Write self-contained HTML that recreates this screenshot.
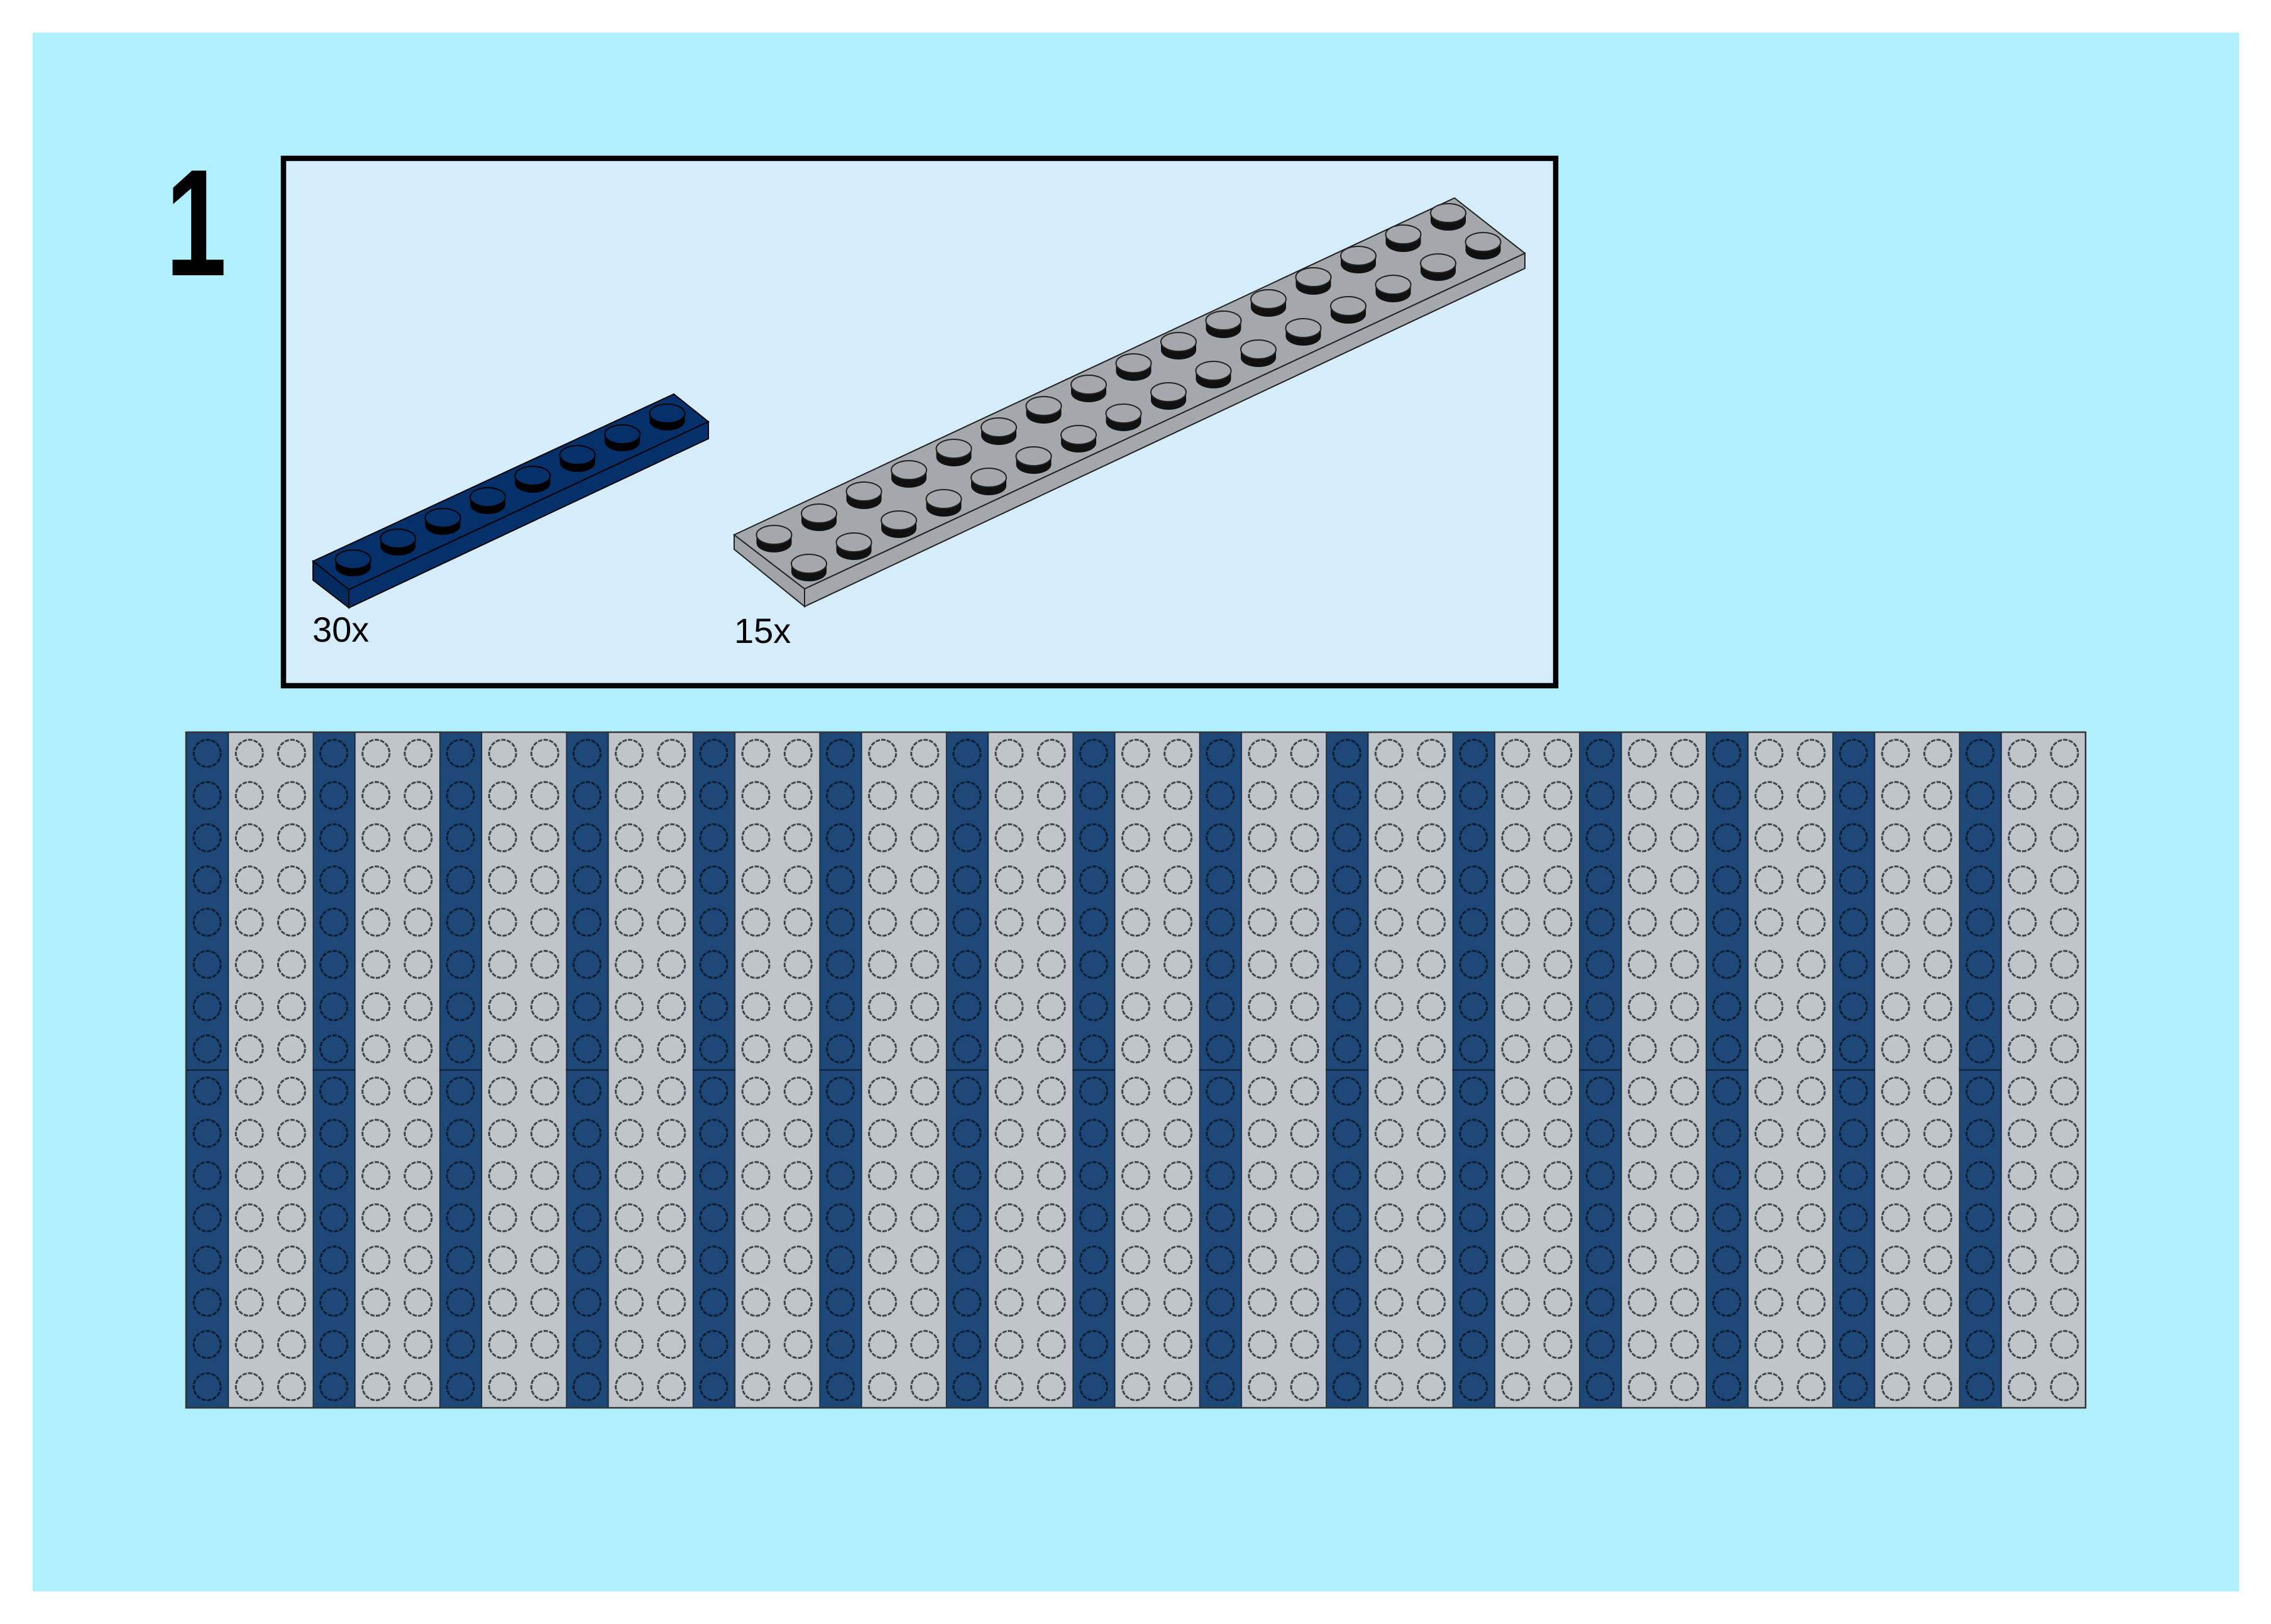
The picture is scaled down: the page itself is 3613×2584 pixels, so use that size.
<!DOCTYPE html>
<html><head><meta charset="utf-8"><style>
html,body{margin:0;padding:0;background:#fff;}
svg{display:block;}
</style></head><body>
<svg width="3613" height="2584" viewBox="0 0 3613 2584" xmlns="http://www.w3.org/2000/svg">
<defs>
<g id="bs">
  <ellipse cx="0" cy="12" rx="28" ry="15" fill="#000"/>
  <rect x="-28" y="0" width="56" height="12" fill="#000"/>
  <ellipse cx="0" cy="0" rx="28" ry="15" fill="#05306a" stroke="#000" stroke-width="2"/>
</g>
<g id="gs">
  <ellipse cx="0" cy="13" rx="28" ry="15" fill="#111"/>
  <rect x="-28" y="0" width="56" height="13" fill="#111"/>
  <ellipse cx="0" cy="0" rx="28" ry="15" fill="#a4a8ac" stroke="#222" stroke-width="2"/>
</g>
<pattern id="grid" x="296" y="1165" width="201.47" height="67.19" patternUnits="userSpaceOnUse">
  <rect x="0" y="0" width="67.2" height="67.19" fill="#1d4877"/>
  <rect x="67.2" y="0" width="134.27" height="67.19" fill="#c0c5cb"/>
  <line x1="67.2" y1="0" x2="67.2" y2="67.19" stroke="#1a2a3a" stroke-width="2"/>
  <line x1="0.5" y1="0" x2="0.5" y2="67.19" stroke="#1a2a3a" stroke-width="2"/>
  <circle cx="33.6" cy="33.6" r="21.5" fill="none" stroke="#0b1c30" stroke-width="3" stroke-dasharray="7 2"/>
  <circle cx="100.7" cy="33.6" r="21.5" fill="none" stroke="#3e4349" stroke-width="3" stroke-dasharray="7 2"/>
  <circle cx="167.9" cy="33.6" r="21.5" fill="none" stroke="#3e4349" stroke-width="3" stroke-dasharray="7 2"/>
</pattern>
</defs>

<rect x="52" y="52" width="3510" height="2480" fill="#b0effd"/>

<text transform="translate(270,438) scale(0.72,1)" x="-9" y="0" font-family="Liberation Sans, sans-serif" font-weight="bold" font-size="242" fill="#000">1</text>

<rect x="451" y="252" width="2024" height="839" fill="#d5edfc" stroke="#000" stroke-width="8.5"/>

<!-- blue plate -->
<polygon points="498,893 1072,627 1127,671 555,938" fill="#05306a" stroke="#000" stroke-width="2"/>
<polygon points="498,893 555,938 555,967 498,923" fill="#042b60" stroke="#000" stroke-width="2"/>
<polygon points="555,938 1127,671 1127,698 555,967" fill="#05306a" stroke="#000" stroke-width="2"/>
<use href="#bs" x="1061.5" y="658"/>
<use href="#bs" x="990.1" y="691"/>
<use href="#bs" x="918.7" y="724"/>
<use href="#bs" x="847.3" y="757"/>
<use href="#bs" x="775.9" y="791"/>
<use href="#bs" x="704.5" y="824"/>
<use href="#bs" x="633.1" y="857"/>
<use href="#bs" x="561.7" y="890"/>
<text x="497" y="1021" font-family="Liberation Sans, sans-serif" font-size="56" fill="#000">30x</text>

<!-- gray plate -->
<polygon points="1168,851 2314,315 2426,403 1280,937" fill="#a4a8ac" stroke="#222" stroke-width="2"/>
<polygon points="1168,851 1280,937 1280,965 1168,874" fill="#a0a4a8" stroke="#222" stroke-width="2"/>
<polygon points="1280,937 2426,403 2426,427 1280,965" fill="#a4a8ac" stroke="#222" stroke-width="2"/>
<g>
<use href="#gs" x="2304" y="339"/>
<use href="#gs" x="2359.5" y="385"/>
<use href="#gs" x="2232.5" y="373"/>
<use href="#gs" x="2288" y="419"/>
<use href="#gs" x="2161" y="407"/>
<use href="#gs" x="2216.5" y="453"/>
<use href="#gs" x="2089.5" y="441"/>
<use href="#gs" x="2145" y="487"/>
<use href="#gs" x="2018" y="476"/>
<use href="#gs" x="2073.5" y="522"/>
<use href="#gs" x="1946.5" y="510"/>
<use href="#gs" x="2002" y="556"/>
<use href="#gs" x="1875" y="544"/>
<use href="#gs" x="1930.5" y="590"/>
<use href="#gs" x="1803.5" y="578"/>
<use href="#gs" x="1859" y="624"/>
<use href="#gs" x="1732" y="612"/>
<use href="#gs" x="1787.5" y="658"/>
<use href="#gs" x="1660.5" y="646"/>
<use href="#gs" x="1716" y="692"/>
<use href="#gs" x="1589" y="680"/>
<use href="#gs" x="1644.5" y="726"/>
<use href="#gs" x="1517.5" y="714"/>
<use href="#gs" x="1573" y="760"/>
<use href="#gs" x="1446" y="748"/>
<use href="#gs" x="1501.5" y="794"/>
<use href="#gs" x="1374.5" y="782"/>
<use href="#gs" x="1430" y="828"/>
<use href="#gs" x="1303" y="817"/>
<use href="#gs" x="1358.5" y="863"/>
<use href="#gs" x="1231.5" y="851"/>
<use href="#gs" x="1287" y="897"/>
</g>
<text x="1168" y="1023" font-family="Liberation Sans, sans-serif" font-size="56" fill="#000">15x</text>

<!-- big grid -->
<rect x="296" y="1165" width="3022" height="1075" fill="url(#grid)"/>
<line x1="296" y1="1702.5" x2="3318" y2="1702.5" stroke="#0b1c30" stroke-width="2" stroke-dasharray="67.2 134.27"/>
<rect x="296" y="1165" width="3022" height="1075" fill="none" stroke="#333" stroke-width="2.5"/>
</svg>
</body></html>
